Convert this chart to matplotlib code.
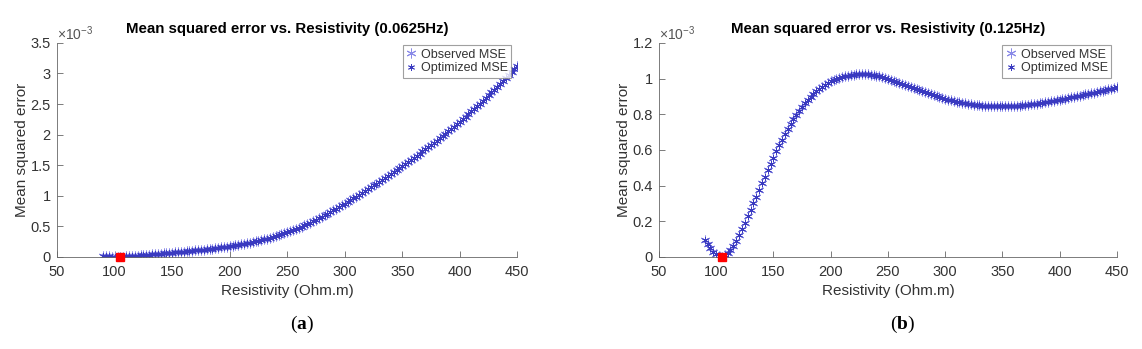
import numpy as np
import matplotlib.pyplot as plt

plt.rcParams['font.family'] = ['Liberation Sans', 'DejaVu Sans']
plt.rcParams['mathtext.fontset'] = 'custom'
plt.rcParams['mathtext.rm'] = 'Liberation Sans'
plt.rcParams['mathtext.bf'] = 'Liberation Serif:bold'

# Resistivity grid (Ohm.m)
resistivity = np.arange(90, 452.5, 2.5)

# MSE at 0.0625 Hz (x 1e-3)
mse_a = [0.012, 0.009, 0.006, 0.004, 0.002, 0.001, 0.000,
         0.003, 0.006, 0.010, 0.014, 0.018, 0.022, 0.026, 0.030, 0.034, 0.038,
         0.042, 0.046, 0.050, 0.054, 0.058, 0.062, 0.066, 0.070, 0.074, 0.078,
         0.082, 0.086, 0.090, 0.095, 0.100, 0.105, 0.110, 0.115, 0.120, 0.125,
         0.130, 0.136, 0.142, 0.148, 0.154, 0.160, 0.167, 0.175,
         0.182, 0.189, 0.197, 0.205, 0.214, 0.223, 0.233, 0.243, 0.254, 0.265,
         0.276, 0.288, 0.300, 0.313, 0.326, 0.340, 0.354, 0.369, 0.384, 0.400,
         0.418, 0.437, 0.456, 0.476, 0.496, 0.517, 0.538, 0.560, 0.583, 0.607,
         0.631, 0.656, 0.681, 0.707, 0.733, 0.759, 0.786, 0.813, 0.841, 0.870,
         0.899, 0.928, 0.957, 0.986, 1.016, 1.046, 1.076, 1.106, 1.137, 1.168,
         1.199, 1.230, 1.262, 1.294, 1.326, 1.358, 1.390, 1.423, 1.456, 1.489,
         1.522, 1.555, 1.589, 1.623, 1.657, 1.691, 1.725, 1.759, 1.794, 1.829,
         1.866, 1.903, 1.940, 1.977, 2.015, 2.053, 2.091, 2.130, 2.169, 2.209,
         2.251, 2.293, 2.336, 2.379, 2.422, 2.465, 2.509, 2.553, 2.598, 2.643,
         2.689, 2.735, 2.781, 2.828, 2.875, 2.922, 2.970, 3.018, 3.066, 3.115]

# MSE at 0.125 Hz (x 1e-3)
mse_b = [0.095, 0.072, 0.050, 0.030, 0.014, 0.003, 0.000,
         0.008, 0.020, 0.038, 0.062, 0.090, 0.120, 0.155, 0.190, 0.227, 0.264,
         0.300, 0.338, 0.375, 0.412, 0.449, 0.486, 0.522, 0.557, 0.592, 0.626,
         0.658, 0.689, 0.718, 0.746, 0.772, 0.797, 0.820, 0.842, 0.862, 0.881,
         0.898, 0.914, 0.929, 0.942, 0.954, 0.965, 0.975, 0.984,
         0.991, 0.998, 1.004, 1.009, 1.013, 1.017, 1.020, 1.022, 1.024, 1.025,
         1.025, 1.025, 1.024, 1.022, 1.020, 1.017, 1.013, 1.009, 1.004, 0.999,
         0.994, 0.988, 0.982, 0.976, 0.970, 0.964, 0.958, 0.952, 0.946, 0.940,
         0.934, 0.928, 0.922, 0.917, 0.911, 0.906, 0.901, 0.896, 0.891, 0.887,
         0.882, 0.878, 0.874, 0.870, 0.867, 0.864, 0.861, 0.858, 0.856, 0.854,
         0.852, 0.850, 0.849, 0.848, 0.847, 0.846, 0.845, 0.845, 0.845, 0.845,
         0.845, 0.845, 0.846, 0.847, 0.848, 0.849, 0.850, 0.852, 0.854, 0.856,
         0.858, 0.860, 0.862, 0.865, 0.867, 0.870, 0.873, 0.876, 0.879, 0.882,
         0.885, 0.888, 0.891, 0.894, 0.897, 0.901, 0.904, 0.907, 0.911, 0.914,
         0.918, 0.921, 0.925, 0.929, 0.932, 0.936, 0.940, 0.943, 0.947, 0.951]

titles = ['Mean squared error vs. Resistivity (0.0625Hz)',
          'Mean squared error vs. Resistivity (0.125Hz)']
y_limits = [3.5, 1.2]
y_ticks = [[0, 0.5, 1, 1.5, 2, 2.5, 3, 3.5],
           [0, 0.2, 0.4, 0.6, 0.8, 1, 1.2]]
y_ticklabels = [['0', '0.5', '1', '1.5', '2', '2.5', '3', '3.5'],
                ['0', '0.2', '0.4', '0.6', '0.8', '1', '1.2']]
x_ticks = [50, 100, 150, 200, 250, 300, 350, 400, 450]
captions = [r'($\mathbf{a}$)', r'($\mathbf{b}$)']

fig = plt.figure(figsize=(11.42, 3.49), dpi=100)
positions = [[0.050, 0.264, 0.403, 0.613], [0.577, 0.264, 0.401, 0.613]]
text_col = '#333333'
axis_col = '#666666'
asterisk = (6, 2, 0)

for i, mse in enumerate([mse_a, mse_b]):
    ax = fig.add_axes(positions[i])
    mse = np.array(mse)
    ax.plot(resistivity, mse, linestyle='none', marker=asterisk, markersize=7,
            color='#8a8ae8', markeredgewidth=0.7, label='Observed MSE')
    ax.plot(resistivity, mse, linestyle='none', marker=asterisk, markersize=5,
            color='#3a3ac0', markeredgewidth=0.6, label='Optimized MSE')
    k = np.argmin(mse)
    ax.plot(resistivity[k], mse[k], linestyle='none', marker='s', markersize=6,
            color='red', clip_on=False, zorder=5)

    ax.set_xlim(50, 450)
    ax.set_ylim(0, y_limits[i])
    ax.set_xticks(x_ticks)
    ax.set_yticks(y_ticks[i])
    ax.set_yticklabels(y_ticklabels[i])
    ax.tick_params(direction='in', length=4, width=0.6, colors=axis_col,
                   labelcolor=text_col, labelsize=10.5)
    ax.tick_params(axis='x', pad=6)
    ax.tick_params(axis='y', pad=4.5)
    for s in ['top', 'right']:
        ax.spines[s].set_visible(False)
    for s in ['left', 'bottom']:
        ax.spines[s].set_color(axis_col)
        ax.spines[s].set_linewidth(0.6)

    ax.set_title(titles[i], fontsize=10.8, fontweight='bold', color='black', pad=7)
    ax.set_xlabel('Resistivity (Ohm.m)', fontsize=11, color=text_col, labelpad=3.5)
    ax.set_ylabel('Mean squared error', fontsize=11, color=text_col, labelpad=1)
    ax.text(0.0, 1.0, r'$\times10^{-3}$', transform=ax.transAxes, fontsize=10,
            color='#555555', ha='left', va='bottom')

    leg = ax.legend(loc='upper right', bbox_to_anchor=(0.992, 1.0), fontsize=9,
                    frameon=True, fancybox=False, handlelength=0.8,
                    handletextpad=0.4, borderpad=0.25, labelspacing=0.15,
                    borderaxespad=0.2)
    leg.get_frame().set_edgecolor('#888888')
    leg.get_frame().set_linewidth(0.8)
    for t in leg.get_texts():
        t.set_color(text_col)

    bb = positions[i]
    fig.text(bb[0] + bb[2] / 2 + 0.013, 0.07, captions[i], fontsize=14,
             family='Liberation Serif', ha='center', va='center')

fig.savefig('out.png', dpi=100)
